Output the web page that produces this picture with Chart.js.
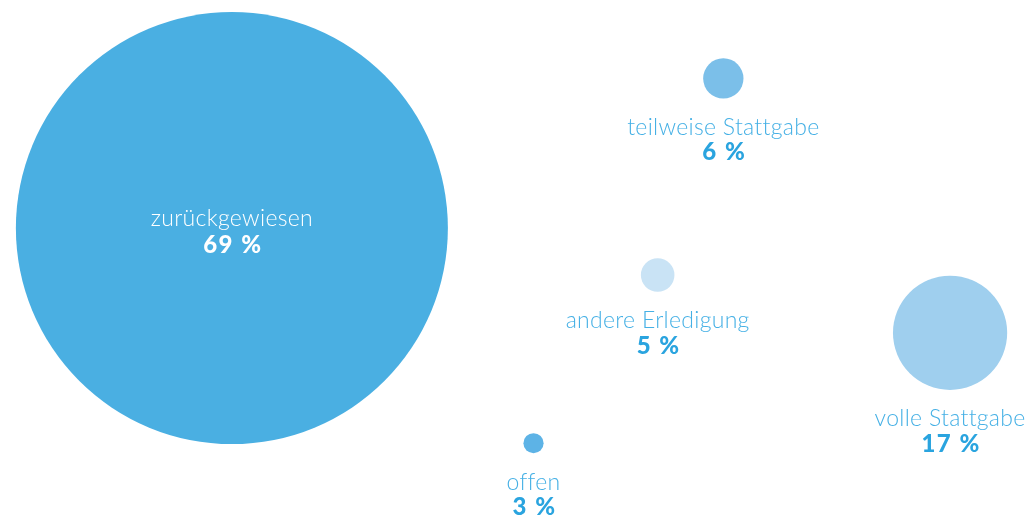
<!DOCTYPE html>
<html lang="de">
<head>
<meta charset="utf-8">
<title>Erledigungen</title>
<script src="https://cdn.jsdelivr.net/npm/chart.js@4"></script>
<style>
  html, body { margin: 0; padding: 0; background: #fff; }
  #wrap { width: 1026px; height: 516px; }
</style>
</head>
<body>
<div id="wrap"><canvas id="bubbleChart"></canvas></div>
<script>
// Daten
const kategorien = ["zurückgewiesen", "teilweise Stattgabe", "andere Erledigung", "offen", "volle Stattgabe"];
const prozente = [69, 6, 5, 3, 17];
const xWerte = [22.6, 70.5, 64.1, 52.0, 92.6];
const yWerte = [55.8, 84.8, 46.7, 14.1, 35.5];
const farben = ["#4aafe2", "#7bbfe9", "#c9e3f5", "#5db3e6", "#9fcfee"];

const punkte = prozente.map((p, i) => ({ x: xWerte[i], y: yWerte[i], v: p }));

// Radius aus Prozentwert, größte Blase auf Höhe begrenzt
function radius(v) {
  return Math.min(v * 3.36, 216);
}

const beschriftung = {
  id: "beschriftung",
  afterDatasetsDraw(chart) {
    const ctx = chart.ctx;
    const meta = chart.getDatasetMeta(0);
    ctx.save();
    ctx.textAlign = "center";
    ctx.textBaseline = "middle";
    meta.data.forEach((el, i) => {
      const r = radius(prozente[i]);
      const innen = r > 100;
      const y1 = innen ? el.y - 9 : el.y + r + 29;
      const y2 = innen ? el.y + 17 : el.y + r + 54;
      ctx.fillStyle = innen ? "#ffffff" : "#45b0e5";
      ctx.font = "300 23px Lato";
      ctx.letterSpacing = "0.3px";
      ctx.fillText(kategorien[i], el.x, y1);
      ctx.fillStyle = innen ? "#ffffff" : "#2aa4df";
      ctx.font = "900 24px Lato";
      ctx.letterSpacing = "1.5px";
      ctx.fillText(prozente[i] + " %", el.x + 1, y2);
    });
    ctx.restore();
  },
};

const ctx = document.getElementById("bubbleChart").getContext("2d");
new Chart(ctx, {
  type: "bubble",
  data: {
    labels: kategorien,
    datasets: [
      {
        data: punkte,
        backgroundColor: farben,
        borderWidth: 0,
        radius: (c) => radius(prozente[c.dataIndex]),
        hoverRadius: 0,
        clip: false,
      },
    ],
  },
  options: {
    responsive: true,
    maintainAspectRatio: false,
    animation: false,
    events: [],
    layout: { padding: 0, autoPadding: false },
    scales: {
      x: { display: false, min: 0, max: 100 },
      y: { display: false, min: 0, max: 100 },
    },
    plugins: {
      legend: { display: false },
      tooltip: { enabled: false },
    },
  },
  plugins: [beschriftung],
});
</script>
</body>
</html>
